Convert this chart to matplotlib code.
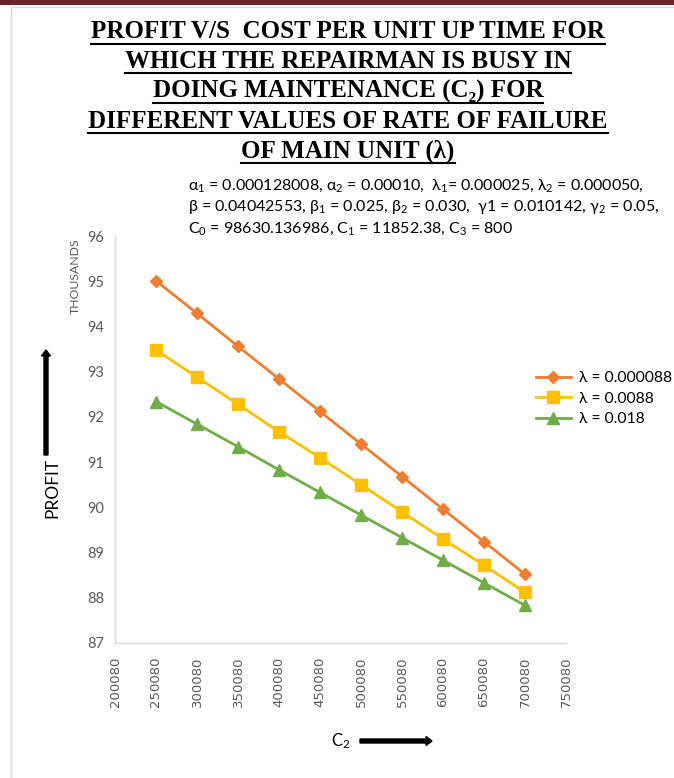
import matplotlib
matplotlib.use("Agg")
import matplotlib.pyplot as plt
from matplotlib.lines import Line2D
from matplotlib.patches import FancyArrow, Rectangle

plt.rcParams["mathtext.fontset"] = "custom"
plt.rcParams["mathtext.rm"] = "Lato"
plt.rcParams["mathtext.it"] = "Lato"
plt.rcParams["mathtext.bf"] = "Lato:bold"

# ---- data ----
c2_values = [250080, 300080, 350080, 400080, 450080, 500080, 550080, 600080, 650080, 700080]
profit_l1 = [95.01, 94.29, 93.56, 92.84, 92.12, 91.40, 90.68, 89.96, 89.24, 88.52]   # thousands
profit_l2 = [93.48, 92.88, 92.28, 91.67, 91.10, 90.50, 89.90, 89.30, 88.72, 88.12]
profit_l3 = [92.34, 91.84, 91.34, 90.83, 90.33, 89.83, 89.33, 88.83, 88.33, 87.83]
series_labels = ["λ = 0.000088", "λ = 0.0088", "λ = 0.018"]
x_ticks = [200080, 250080, 300080, 350080, 400080, 450080, 500080, 550080, 600080, 650080, 700080, 750080]
y_ticks = [87, 88, 89, 90, 91, 92, 93, 94, 95, 96]

title_lines = [
    "PROFIT V/S  COST PER UNIT UP TIME FOR",
    "WHICH THE REPAIRMAN IS BUSY IN",
    "DOING MAINTENANCE (C\u2082) FOR",
    "DIFFERENT VALUES OF RATE OF FAILURE",
    "OF MAIN UNIT (λ)",
]
param_lines = [
    r"α$_1$ = 0.000128008, α$_2$ = 0.00010,  λ$_1$= 0.000025, λ$_2$ = 0.000050,",
    r"β = 0.04042553, β$_1$ = 0.025, β$_2$ = 0.030,  γ1 = 0.010142, γ$_2$ = 0.05,",
    r"C$_0$ = 98630.136986, C$_1$ = 11852.38, C$_3$ = 800",
]

W, H = 674, 778
fig = plt.figure(figsize=(W / 100, H / 100), dpi=100)
fig.patch.set_facecolor("white")

def fx(px):
    return px / W

def fy(py):
    return 1 - py / H

# page decoration
fig.add_artist(Rectangle((0, fy(5)), 1, 5 / H, transform=fig.transFigure,
                         facecolor="#6b2226", edgecolor="none"))
fig.add_artist(Line2D([fx(11), 1], [fy(7), fy(7)], transform=fig.transFigure,
                      color="#d9d9d9", lw=1))
fig.add_artist(Line2D([fx(11), fx(11)], [fy(7), 0], transform=fig.transFigure,
                      color="#d9d9d9", lw=1))

# axes
ax = fig.add_axes([fx(115), fy(643), fx(566) - fx(115), fy(236) - fy(643)])
colors = ["#ED7D31", "#FFC000", "#70AD47"]
markers = ["D", "s", "^"]
msizes = [6, 8, 8]
for ys, c, m, ms, lab in zip([profit_l1, profit_l2, profit_l3], colors, markers, msizes, series_labels):
    ax.plot(c2_values, ys, color=c, marker=m, markersize=ms, lw=2, label=lab,
            markeredgecolor=c)

ax.set_xlim(x_ticks[0], x_ticks[-1])
ax.set_ylim(y_ticks[0], y_ticks[-1])
ax.set_xticks(x_ticks)
ax.set_xticklabels([str(v) for v in x_ticks], rotation=90, fontsize=9.5,
                   color="#595959", family=["DejaVu Sans"])
ax.set_yticks(y_ticks)
ax.set_yticklabels([str(v) for v in y_ticks], fontsize=10.5, color="#595959",
                   family=["Lato", "DejaVu Sans"])
ax.tick_params(length=0, pad=8)
ax.tick_params(axis="x", pad=10)
for s in ["top", "right"]:
    ax.spines[s].set_visible(False)
for s in ["left", "bottom"]:
    ax.spines[s].set_color("#d9d9d9")
    ax.spines[s].set_linewidth(1)

leg = ax.legend(loc="upper left", bbox_to_anchor=(fx(533), fy(368)), bbox_transform=fig.transFigure,
                frameon=False, handlelength=2.2, handletextpad=0.5, borderaxespad=0,
                borderpad=0.2, labelspacing=0.42, prop={"family": ["Lato", "DejaVu Sans"], "size": 11.3})

# text labels
fig.text(fx(75), fy(276), "THOUSANDS", rotation=90, ha="center", va="center",
         fontsize=8.8, color="#595959", family=["Lato", "DejaVu Sans"])
fig.text(fx(52), fy(488), "PROFIT", rotation=90, ha="center", va="center",
         fontsize=12.5, color="black", family=["Lato", "DejaVu Sans"])
fig.add_artist(FancyArrow(fx(46), fy(455), 0, (455 - 350) / H, width=4 / W,
                          head_width=9 / W, head_length=6 / H, length_includes_head=True,
                          transform=fig.transFigure, color="black"))
fig.text(fx(341), fy(741), r"C$_2$", ha="center", va="center", fontsize=12,
         color="black", family=["Lato", "DejaVu Sans"])
fig.add_artist(FancyArrow(fx(360), fy(741), (432 - 360) / W, 0, width=4 / H,
                          head_width=9 / H, head_length=6 / W, length_includes_head=True,
                          transform=fig.transFigure, color="black"))

for i, line in enumerate(param_lines):
    fig.text(fx(188), fy(186 + i * 21.5), line, ha="left", va="center", fontsize=11.5,
             color="black", family=["Lato", "DejaVu Sans"])

# title with underlines
title_y = [32, 61, 91, 121, 151]
title_texts = []
for line, ty in zip(title_lines, title_y):
    t = fig.text(fx(348), fy(ty), line, ha="center", va="center", fontsize=18,
                 fontweight="bold", color="black",
                 family=["Liberation Serif", "DejaVu Serif"])
    title_texts.append((t, ty))

fig.canvas.draw()
r = fig.canvas.get_renderer()
for t, ty in title_texts:
    bb = t.get_window_extent(r)
    yline = fy(ty + 12)
    fig.add_artist(Line2D([bb.x0 / W, bb.x1 / W], [yline, yline], transform=fig.transFigure,
                          color="black", lw=1.5))

fig.savefig("out.png", dpi=100, facecolor="white")
